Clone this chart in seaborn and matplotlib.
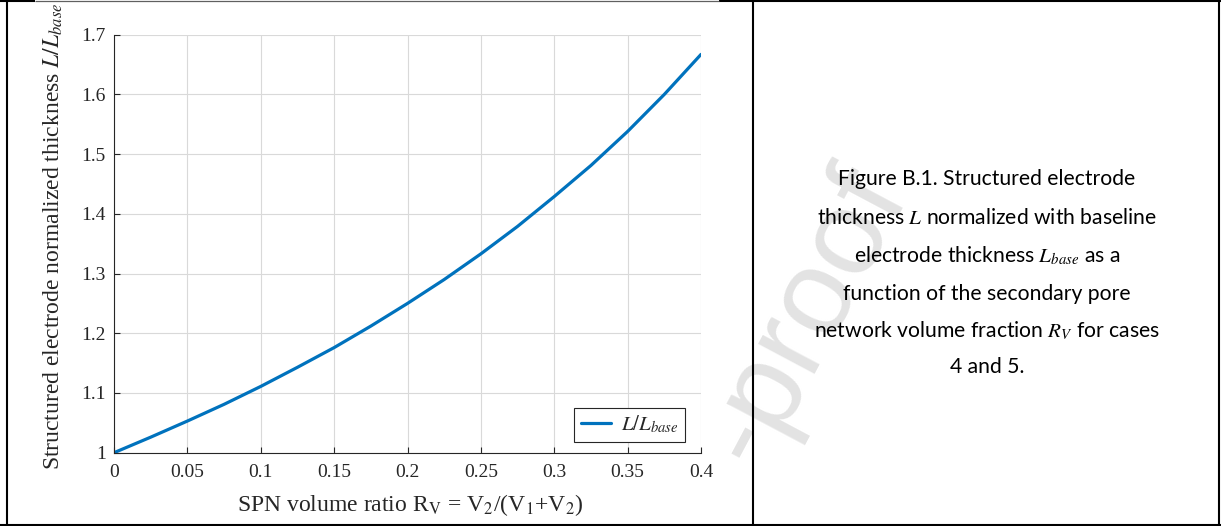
import matplotlib
matplotlib.use("Agg")
import matplotlib.pyplot as plt
import seaborn as sns
import pandas as pd
from matplotlib.lines import Line2D
from matplotlib.patches import Rectangle

# SPN volume ratio R_V and normalised electrode thickness L/L_base
rv_values = [0.000, 0.025, 0.050, 0.075, 0.100, 0.125, 0.150, 0.175, 0.200,
             0.225, 0.250, 0.275, 0.300, 0.325, 0.350, 0.375, 0.400]
thickness_ratio = [1.000, 1.026, 1.053, 1.081, 1.111, 1.143, 1.176, 1.212, 1.250,
                   1.290, 1.333, 1.379, 1.429, 1.481, 1.538, 1.600, 1.667]

x_ticks = [0, 0.05, 0.1, 0.15, 0.2, 0.25, 0.3, 0.35, 0.4]
x_tick_labels = ["0", "0.05", "0.1", "0.15", "0.2", "0.25", "0.3", "0.35", "0.4"]
y_ticks = [1.0, 1.1, 1.2, 1.3, 1.4, 1.5, 1.6, 1.7]
y_tick_labels = ["1", "1.1", "1.2", "1.3", "1.4", "1.5", "1.6", "1.7"]

series_label = r"$L/L_{base}$"
x_label = r"SPN volume ratio R$_\mathrm{V}$ = V$_\mathrm{2}$/(V$_\mathrm{1}$+V$_\mathrm{2}$)"
y_label = r"Structured electrode normalized thickness $L/L_{base}$"

caption_lines = [
    "Figure B.1. Structured electrode",
    r"thickness $L$ normalized with baseline",
    r"electrode thickness $L_{base}$ as a",
    "function of the secondary pore",
    r"network volume fraction $R_V$ for cases",
    "4 and 5.",
]
watermark_text = "-proof"

W, H = 1221, 526
AX_GREY = "#262626"
LINE_BLUE = "#0072BD"

sns.set_theme(style="white")
plt.rcParams["font.family"] = ["Liberation Serif", "DejaVu Serif"]
plt.rcParams["mathtext.fontset"] = "stix"

fig = plt.figure(figsize=(W / 100, H / 100), dpi=100)
fig.patch.set_facecolor("white")


def fx(px):
    return px / W


def fy(py):
    return 1 - py / H


# plot panel
ax = fig.add_axes([fx(114), fy(452.7), fx(701) - fx(114), fy(34.7) - fy(452.7)])
ax.set_zorder(2)
ax.set_facecolor("white")

df = pd.DataFrame({"rv": rv_values, "ratio": thickness_ratio})
sns.lineplot(data=df, x="rv", y="ratio", ax=ax, color=LINE_BLUE,
             linewidth=2.3, label=series_label)

ax.set_xlim(0, 0.4)
ax.set_ylim(1, 1.7)
ax.set_xticks(x_ticks, labels=x_tick_labels)
ax.set_yticks(y_ticks, labels=y_tick_labels)
ax.tick_params(axis="both", direction="in", length=4, width=0.8,
               colors=AX_GREY, labelsize=14, bottom=True, left=True)
ax.tick_params(axis="x", pad=8)
ax.tick_params(axis="y", pad=6)
ax.grid(True, color="#d9d9d9", linewidth=0.8)
ax.set_axisbelow(True)
for side in ("top", "right"):
    ax.spines[side].set_visible(False)
for side in ("left", "bottom"):
    ax.spines[side].set_color(AX_GREY)
    ax.spines[side].set_linewidth(0.8)

ax.set_xlabel(x_label, fontsize=17, color=AX_GREY)
ax.xaxis.set_label_coords(0.504, -0.1395)
ax.xaxis.label.set_va("baseline")
ax.set_ylabel(y_label, fontsize=17, color=AX_GREY)
ax.yaxis.set_label_coords(-0.1039, 0.517)
ax.yaxis.label.set_va("center")

leg = ax.legend(loc="lower right", bbox_to_anchor=((685 - 114) / 587, 11 / 418),
                borderaxespad=0, fontsize=15, frameon=True, fancybox=False,
                edgecolor=AX_GREY, framealpha=1, handlelength=1.45,
                handletextpad=0.5, borderpad=0.3)
leg.get_frame().set_linewidth(0.8)

# white backing of the chart cell, hiding the page watermark behind it
fig.add_artist(Rectangle((fx(8), fy(524)), fx(719) - fx(8), fy(2) - fy(524),
                         transform=fig.transFigure, facecolor="white",
                         edgecolor="none", zorder=1))

# faint page watermark
fig.text(fx(759), fy(470), watermark_text, rotation=62, rotation_mode="anchor",
         ha="left", va="baseline", fontsize=87, family="Liberation Sans",
         color="#e3e3e3", zorder=0.5)

# caption in the right-hand cell
caption_baselines = [185, 224.3, 262.7, 300, 337.3, 373]
for line, base in zip(caption_lines, caption_baselines):
    fig.text(fx(987), fy(base), line, ha="center", va="baseline", fontsize=15.2,
             family=["Lato", "DejaVu Sans"], color="black", zorder=3)

# table borders
def border(x0, y0, x1, y1, color="black", lw=1.5):
    fig.add_artist(Line2D([fx(x0), fx(x1)], [fy(y0), fy(y1)],
                          transform=fig.transFigure, color=color,
                          linewidth=lw, zorder=4, solid_capstyle="butt"))

border(7, 0, 7, 526)
border(1218.5, 0, 1218.5, 526)
border(753, 0, 753, 526)
border(0, 525, 1221, 525)
border(0, 1, 35, 1)
border(719, 1, 1221, 1)
border(35, 0.6, 719, 0.6, color="#606060", lw=0.9)

fig.savefig("out.png", dpi=100, facecolor="white")
